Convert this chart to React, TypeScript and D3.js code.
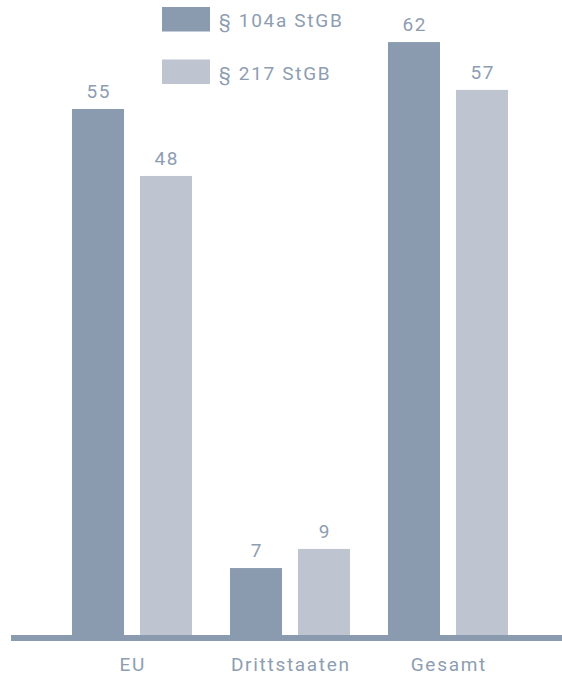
import React from "react";
import * as d3 from "d3";

const categories = ["EU", "Drittstaaten", "Gesamt"];
const seriesNames = ["§ 104a StGB", "§ 217 StGB"];
const values104a = [55, 7, 62];
const values217 = [48, 9, 57];
const seriesColors = ["#8a9bb0", "#bec4d0"];

const W = 562;
const H = 677;
const baseY = 635;
const textColor = "#8d9db2";
const font = "Roboto, 'Noto Sans', sans-serif";
const fs = 19;
const ls = 1.7;
const fw = 400;

export default function App() {
  const x0 = d3.scaleBand<string>().domain(categories).range([53, 527]).padding(0);
  const x1 = d3
    .scaleBand<string>()
    .domain(seriesNames)
    .range([0, x0.bandwidth()])
    .paddingInner(0.235)
    .paddingOuter(0.279);
  const y = d3.scaleLinear().domain([0, 66.4]).range([baseY, 0]);
  const seriesVals = [values104a, values217];

  return (
    <svg
      width={W}
      height={H}
      style={{ position: "absolute", left: 0, top: 0, background: "#fff" }}
      fontFamily={font}
    >
      {/* legend */}
      {seriesNames.map((s, i) => (
        <g key={s} transform={`translate(162, ${7 + i * 52.5})`}>
          <rect width={48} height={24.5} fill={seriesColors[i]} />
          <text x={57} y={20} fontSize={fs} fill={textColor} fontWeight={fw} letterSpacing={ls}>
            {s}
          </text>
        </g>
      ))}
      {/* bars */}
      {categories.map((c, ci) => (
        <g key={c} transform={`translate(${x0(c)},0)`}>
          {seriesNames.map((s, si) => {
            const v = seriesVals[si][ci];
            const bx = x1(s)!;
            return (
              <g key={s}>
                <rect
                  x={bx}
                  y={y(v)}
                  width={x1.bandwidth()}
                  height={baseY - y(v)}
                  fill={seriesColors[si]}
                />
                <text
                  x={bx + x1.bandwidth() / 2 + ls / 2}
                  y={y(v) - 11}
                  textAnchor="middle"
                  fontSize={fs}
                  fill={textColor}
                  fontWeight={fw}
                  letterSpacing={ls}
                >
                  {v}
                </text>
              </g>
            );
          })}
        </g>
      ))}
      {/* baseline */}
      <rect x={11} y={baseY} width={W - 11} height={6} fill={seriesColors[0]} />
      {/* category labels */}
      {categories.map((c) => (
        <text
          key={c}
          x={x0(c)! + x0.bandwidth() / 2 + ls / 2}
          y={671}
          textAnchor="middle"
          fontSize={fs}
          fill={textColor}
          fontWeight={fw}
          letterSpacing={ls}
        >
          {c}
        </text>
      ))}
    </svg>
  );
}
